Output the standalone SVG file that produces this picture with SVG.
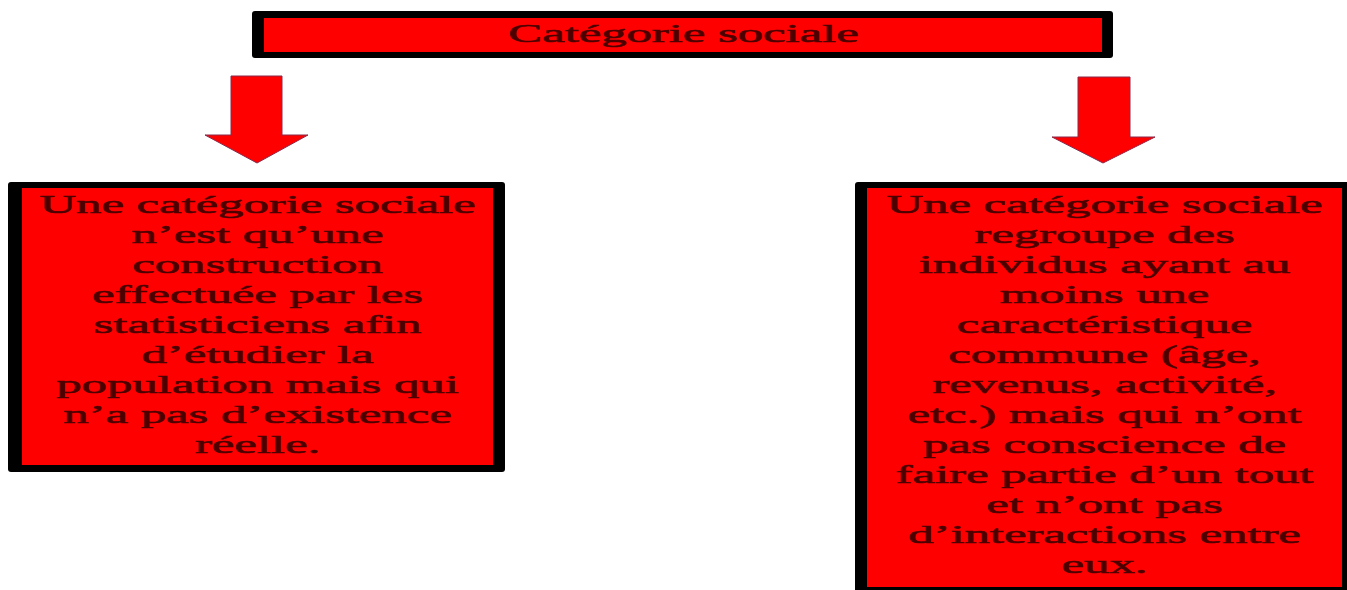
<svg xmlns="http://www.w3.org/2000/svg" width="1347" height="590" viewBox="0 0 1347 590">
<style>
.frame{fill:#000;}
.fill{fill:#ff0000;}
.arrow{fill:#ff0000;stroke:#8a2a4a;stroke-width:1;stroke-linejoin:miter;}
.t{font-family:"Liberation Serif","Times New Roman",serif;font-size:26px;fill:#4c0000;stroke:#4c0000;stroke-width:0.6;text-anchor:middle;}
</style>
<rect width="1347" height="590" fill="#fff"/>
<g id="connectors">
<path class="arrow" d="M231,76 H282 V135 H308 L257,163 L205,135 H231 Z"/>
<path class="arrow" d="M1078,77 H1130 V137 H1155 L1103,163 L1052,137 H1078 Z"/>
</g>
<g id="node-top">
<rect class="frame" x="252" y="11" width="861" height="47" rx="3"/>
<rect class="fill" x="264" y="18" width="838" height="34"/>
<g transform="translate(683.5,0) scale(1.95,1)"><text class="t" x="0" y="42">Catégorie sociale</text></g>
</g>
<g id="node-left">
<rect class="frame" x="8" y="182" width="497" height="290" rx="3"/>
<rect class="fill" x="22" y="188" width="471" height="277"/>
<g transform="translate(257.5,0) scale(1.95,1)">
<text class="t" x="0" y="213">Une catégorie sociale</text>
<text class="t" x="0" y="243">n’est qu’une</text>
<text class="t" x="0" y="273">construction</text>
<text class="t" x="0" y="303">effectuée par les</text>
<text class="t" x="0" y="333">statisticiens afin</text>
<text class="t" x="0" y="363">d’étudier la</text>
<text class="t" x="0" y="393">population mais qui</text>
<text class="t" x="0" y="423">n’a pas d’existence</text>
<text class="t" x="0" y="453">réelle.</text>
</g>
</g>
<g id="node-right">
<rect class="frame" x="855" y="182" width="500" height="420" rx="3"/>
<rect class="fill" x="867" y="188" width="475" height="399"/>
<g transform="translate(1104.5,0) scale(1.95,1)">
<text class="t" x="0" y="213">Une catégorie sociale</text>
<text class="t" x="0" y="243">regroupe des</text>
<text class="t" x="0" y="273">individus ayant au</text>
<text class="t" x="0" y="303">moins une</text>
<text class="t" x="0" y="333">caractéristique</text>
<text class="t" x="0" y="363">commune (âge,</text>
<text class="t" x="0" y="393">revenus, activité,</text>
<text class="t" x="0" y="423">etc.) mais qui n’ont</text>
<text class="t" x="0" y="453">pas conscience de</text>
<text class="t" x="0" y="483">faire partie d’un tout</text>
<text class="t" x="0" y="513">et n’ont pas</text>
<text class="t" x="0" y="543">d’interactions entre</text>
<text class="t" x="0" y="573">eux.</text>
</g>
</g>
</svg>
